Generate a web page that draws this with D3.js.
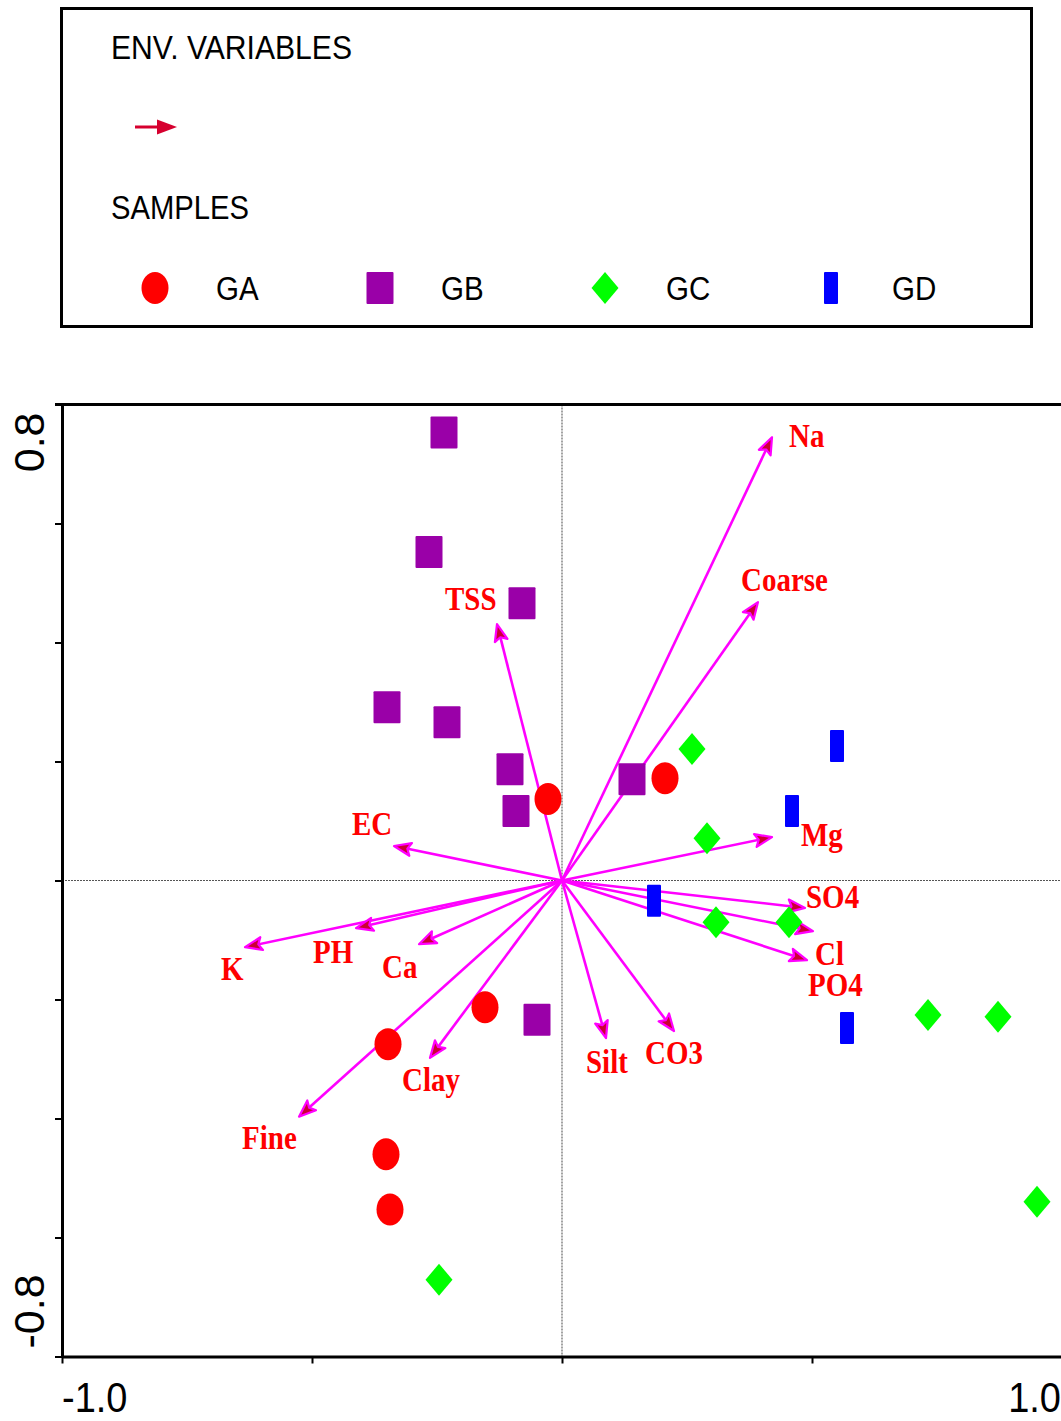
<!DOCTYPE html>
<html><head><meta charset="utf-8">
<script src="https://cdn.jsdelivr.net/npm/d3@7"></script>
<style>html,body{margin:0;padding:0;background:#fff;overflow:hidden}svg{display:block}</style>
</head><body>
<script>
// ---- data ----
const envNames = ["Na","Coarse","TSS","EC","Mg","SO4","Cl","PO4","K","PH","Ca","Clay","Fine","Silt","CO3"];
const envAxis1 = [0.420,0.392,-0.130,-0.336,0.420,0.486,0.502,0.490,-0.634,-0.412,-0.286,-0.264,-0.526,0.088,0.224];
const envAxis2 = [0.745,0.468,0.431,0.058,0.073,-0.046,-0.085,-0.134,-0.112,-0.080,-0.107,-0.298,-0.397,-0.265,-0.253];

const groupNames = ["GA","GB","GC","GD"];
const gaAxis1 = [-0.028,0.206,-0.154,-0.348,-0.352,-0.344];
const gaAxis2 = [0.137,0.172,-0.213,-0.275,-0.460,-0.553];
const gbAxis1 = [-0.236,-0.266,-0.080,-0.350,-0.230,-0.104,-0.092,0.140,-0.050];
const gbAxis2 = [0.753,0.552,0.466,0.291,0.266,0.187,0.117,0.170,-0.234];
const gcAxis1 = [0.260,0.290,0.308,0.454,0.732,0.872,0.950,-0.246];
const gcAxis2 = [0.221,0.071,-0.070,-0.070,-0.226,-0.229,-0.540,-0.671];
const gdAxis1 = [0.550,0.460,0.184,0.570];
const gdAxis2 = [0.226,0.117,-0.034,-0.248];

const xTickValues = [-1.0,-0.5,0,0.5,1.0];
const yTickValues = [-0.8,-0.6,-0.4,-0.2,0,0.2,0.4,0.6,0.8];
const xTickLabels = ["-1.0","1.0"];
const yTickLabels = ["-0.8","0.8"];
const legendTitles = ["ENV. VARIABLES","SAMPLES"];

// ---- layout ----
const W = 1061, H = 1421;
const labelOffsets = [[17,10],[-17,-11],[-52,-14],[-42,-11],[29,9],[1,0],[2,34],[1,36],[-24,33],[-43,35],[-37,34],[-28,33],[-57,32],[-20,35],[-29,33]];
const groupColors = ["#ff0000","#9a00a8","#00ff00","#0000ff"];
const groupShapes = ["ellipse","square","diamond","bar"];

const svg = d3.select("body").append("svg").attr("width",W).attr("height",H);

const x = d3.scaleLinear().domain([-1,1]).range([62,1062]);
const y = d3.scaleLinear().domain([-0.8,0.8]).range([1356.5,404.5]);

function sText(g, px, py, str, size, family, weight, fill, sy, anchor, len){
  const t = g.append("text").attr("transform",`translate(${px},${py}) scale(1,${sy})`)
    .attr("font-family",family).attr("font-size",size).attr("font-weight",weight||"normal")
    .attr("fill",fill).attr("text-anchor",anchor||"start").text(str);
  if(len){ t.attr("textLength",len).attr("lengthAdjust","spacingAndGlyphs"); }
  return t;
}

function drawShape(g, shape, cx, cy, color){
  if(shape==="ellipse"){
    g.append("ellipse").attr("cx",cx).attr("cy",cy).attr("rx",13.5).attr("ry",16).attr("fill",color);
  } else if(shape==="square"){
    g.append("rect").attr("x",cx-13.5).attr("y",cy-16).attr("width",27).attr("height",32).attr("rx",1).attr("fill",color);
  } else if(shape==="diamond"){
    g.append("path").attr("d",`M${cx},${cy-16}L${cx+13.5},${cy}L${cx},${cy+16}L${cx-13.5},${cy}Z`).attr("fill",color);
  } else {
    g.append("rect").attr("x",cx-7).attr("y",cy-16).attr("width",14).attr("height",32).attr("rx",1).attr("fill",color);
  }
}

const SANS = "Liberation Sans, Arial, sans-serif";

// ---- legend ----
const lg = svg.append("g");
lg.append("rect").attr("x",61.5).attr("y",8.5).attr("width",970).attr("height",318)
  .attr("fill","none").attr("stroke","#000").attr("stroke-width",3);
sText(lg,111,59,legendTitles[0],29.5,SANS,"normal","#000",1.13,"start",241);
sText(lg,111,219,legendTitles[1],29.5,SANS,"normal","#000",1.13,"start",138);
lg.append("line").attr("x1",135).attr("y1",127).attr("x2",160).attr("y2",127).attr("stroke","#d6002f").attr("stroke-width",3);
lg.append("path").attr("d","M157,119.5L177,127L157,134.5Z").attr("fill","#d6002f");
const legX = [155,380,605,831];
groupNames.forEach((n,i)=>{
  drawShape(lg, groupShapes[i], legX[i], 288, groupColors[i]);
  sText(lg, legX[i]+61, 300, n, 29.5, SANS,"normal","#000",1.13);
});

// ---- plot frame ----
const pg = svg.append("g");
pg.append("line").attr("x1",x(-1)).attr("x2",x(1)).attr("y1",y(0)).attr("y2",y(0))
  .attr("stroke","#555").attr("stroke-width",1).attr("stroke-dasharray","2,1");
pg.append("line").attr("x1",x(0)).attr("x2",x(0)).attr("y1",y(0.8)).attr("y2",y(-0.8))
  .attr("stroke","#666").attr("stroke-width",1.2).attr("stroke-dasharray","2,1");

const xAxis = d3.axisBottom(x).tickValues(xTickValues).tickSize(7).tickSizeOuter(0).tickFormat("");
const yAxis = d3.axisLeft(y).tickValues(yTickValues).tickSize(7).tickSizeOuter(0).tickFormat("");
const gx = pg.append("g").attr("transform",`translate(0,${y(-0.8)})`).call(xAxis);
const gy = pg.append("g").attr("transform",`translate(${x(-1)},0)`).call(yAxis);
[gx,gy].forEach(g=>{
  g.select(".domain").attr("stroke","#000").attr("stroke-width",3);
  g.selectAll(".tick line").attr("stroke","#000").attr("stroke-width",2);
});
pg.append("line").attr("x1",x(-1)-7).attr("x2",x(1)).attr("y1",y(0.8)).attr("y2",y(0.8)).attr("stroke","#000").attr("stroke-width",3);
pg.append("line").attr("x1",x(1)+1).attr("x2",x(1)+1).attr("y1",y(0.8)).attr("y2",y(-0.8)).attr("stroke","#000").attr("stroke-width",3);

sText(pg, x(-1), 1412, xTickLabels[0], 38, SANS,"normal","#000",1.1,"start");
sText(pg, x(1)-1, 1412, xTickLabels[1], 38, SANS,"normal","#000",1.1,"end");
pg.append("text").attr("transform",`translate(44,${y(-0.8)-8}) rotate(-90)`)
  .attr("font-family",SANS).attr("font-size",43).attr("text-anchor","start").text(yTickLabels[0]);
pg.append("text").attr("transform",`translate(44,${y(0.8)+8}) rotate(-90)`)
  .attr("font-family",SANS).attr("font-size",43).attr("text-anchor","end").text(yTickLabels[1]);

// ---- arrows ----
const ag = svg.append("g");
const ox = x(0), oy = y(0);
envNames.forEach((n,i)=>{
  const tx = x(envAxis1[i]), ty = y(envAxis2[i]);
  const dx = tx-ox, dy = ty-oy, L = Math.hypot(dx,dy);
  const ux = dx/L, uy = dy/L, px = -uy, py = ux;
  const hl = 17, hw = 6.5;
  const bx = tx - ux*hl, by = ty - uy*hl;
  ag.append("line").attr("x1",ox).attr("y1",oy).attr("x2",tx-ux*4).attr("y2",ty-uy*4)
    .attr("stroke","#ff00ff").attr("stroke-width",2.6);
  const nx = tx - ux*hl*0.8, ny = ty - uy*hl*0.8;
  ag.append("path").attr("d",`M${tx},${ty}L${bx+px*hw},${by+py*hw}L${nx},${ny}L${bx-px*hw},${by-py*hw}Z`)
    .attr("fill","#cc0033").attr("stroke","#ff00ff").attr("stroke-width",2.2).attr("stroke-linejoin","round");
});

// ---- samples ----
const sg = svg.append("g");
const groupAxis1 = [gaAxis1,gbAxis1,gcAxis1,gdAxis1];
const groupAxis2 = [gaAxis2,gbAxis2,gcAxis2,gdAxis2];
groupNames.forEach((n,gi)=>{
  groupAxis1[gi].forEach((v,j)=>{
    drawShape(sg, groupShapes[gi], x(v), y(groupAxis2[gi][j]), groupColors[gi]);
  });
});

// ---- arrow labels ----
const tg = svg.append("g");
envNames.forEach((n,i)=>{
  const tx = x(envAxis1[i]), ty = y(envAxis2[i]);
  sText(tg, tx+labelOffsets[i][0], ty+labelOffsets[i][1], n, 29, "Liberation Serif, Times New Roman, serif","bold","#ff0000",1.18);
});
</script>
</body></html>
